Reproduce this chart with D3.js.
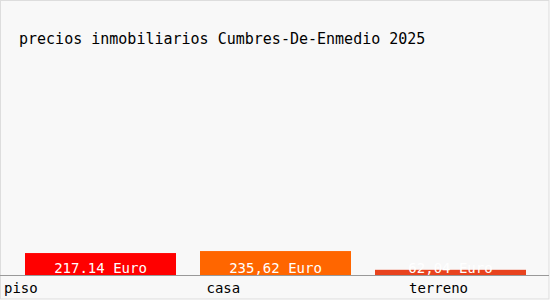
<!DOCTYPE html>
<html>
<head>
<meta charset="utf-8">
<script src="https://cdn.jsdelivr.net/npm/d3@7"></script>
<style>
  html, body { margin: 0; padding: 0; background: #ffffff; }
  svg { display: block; }
  text { font-family: "DejaVu Sans Mono", monospace; }
</style>
</head>
<body>
<script>
const title = "precios inmobiliarios Cumbres-De-Enmedio 2025";
const categories = ["piso", "casa", "terreno"];
const values = [217.14, 235.62, 62.04];
const valueLabels = ["217.14 Euro", "235,62 Euro", "62,04 Euro"];
const colors = ["#ff0000", "#ff6600", "#e8431e"];

const W = 550, H = 300;
const svg = d3.select("body").append("svg").attr("width", W).attr("height", H);

svg.append("rect")
  .attr("x", 0.5).attr("y", 0.5).attr("width", W - 1.5).attr("height", H - 1.5)
  .attr("fill", "#f8f8f8").attr("stroke", "#dddddd");

svg.append("text")
  .attr("x", 19).attr("y", 44)
  .attr("font-size", 15).attr("fill", "#000")
  .text(title);

const axisY = 275;
const x = d3.scaleBand().domain(categories).range([13, 538])
  .paddingInner(24 / 175).paddingOuter(12 / 175);
const y = d3.scaleLinear().domain([0, 2500]).range([276.5, 6.5]);

const g = svg.append("g");
g.selectAll("rect.bar").data(categories).join("rect")
  .attr("class", "bar")
  .attr("x", d => x(d))
  .attr("width", x.bandwidth())
  .attr("y", (d, i) => y(values[i]))
  .attr("height", (d, i) => axisY - y(values[i]))
  .attr("fill", (d, i) => colors[i]);

g.selectAll("text.val").data(categories).join("text")
  .attr("class", "val")
  .attr("x", d => x(d) + x.bandwidth() / 2)
  .attr("y", 273)
  .attr("text-anchor", "middle")
  .attr("font-size", 14)
  .attr("fill", "#ffffff")
  .text((d, i) => valueLabels[i]);

svg.append("line")
  .attr("x1", 0).attr("x2", W - 1)
  .attr("y1", axisY + 0.5).attr("y2", axisY + 0.5)
  .attr("stroke", "#999999");

const xl = d3.scalePoint().domain(categories).range([4, 409]);
svg.selectAll("text.cat").data(categories).join("text")
  .attr("class", "cat")
  .attr("x", d => xl(d))
  .attr("y", 293)
  .attr("font-size", 14)
  .attr("fill", "#000")
  .text(d => d);
</script>
</body>
</html>
